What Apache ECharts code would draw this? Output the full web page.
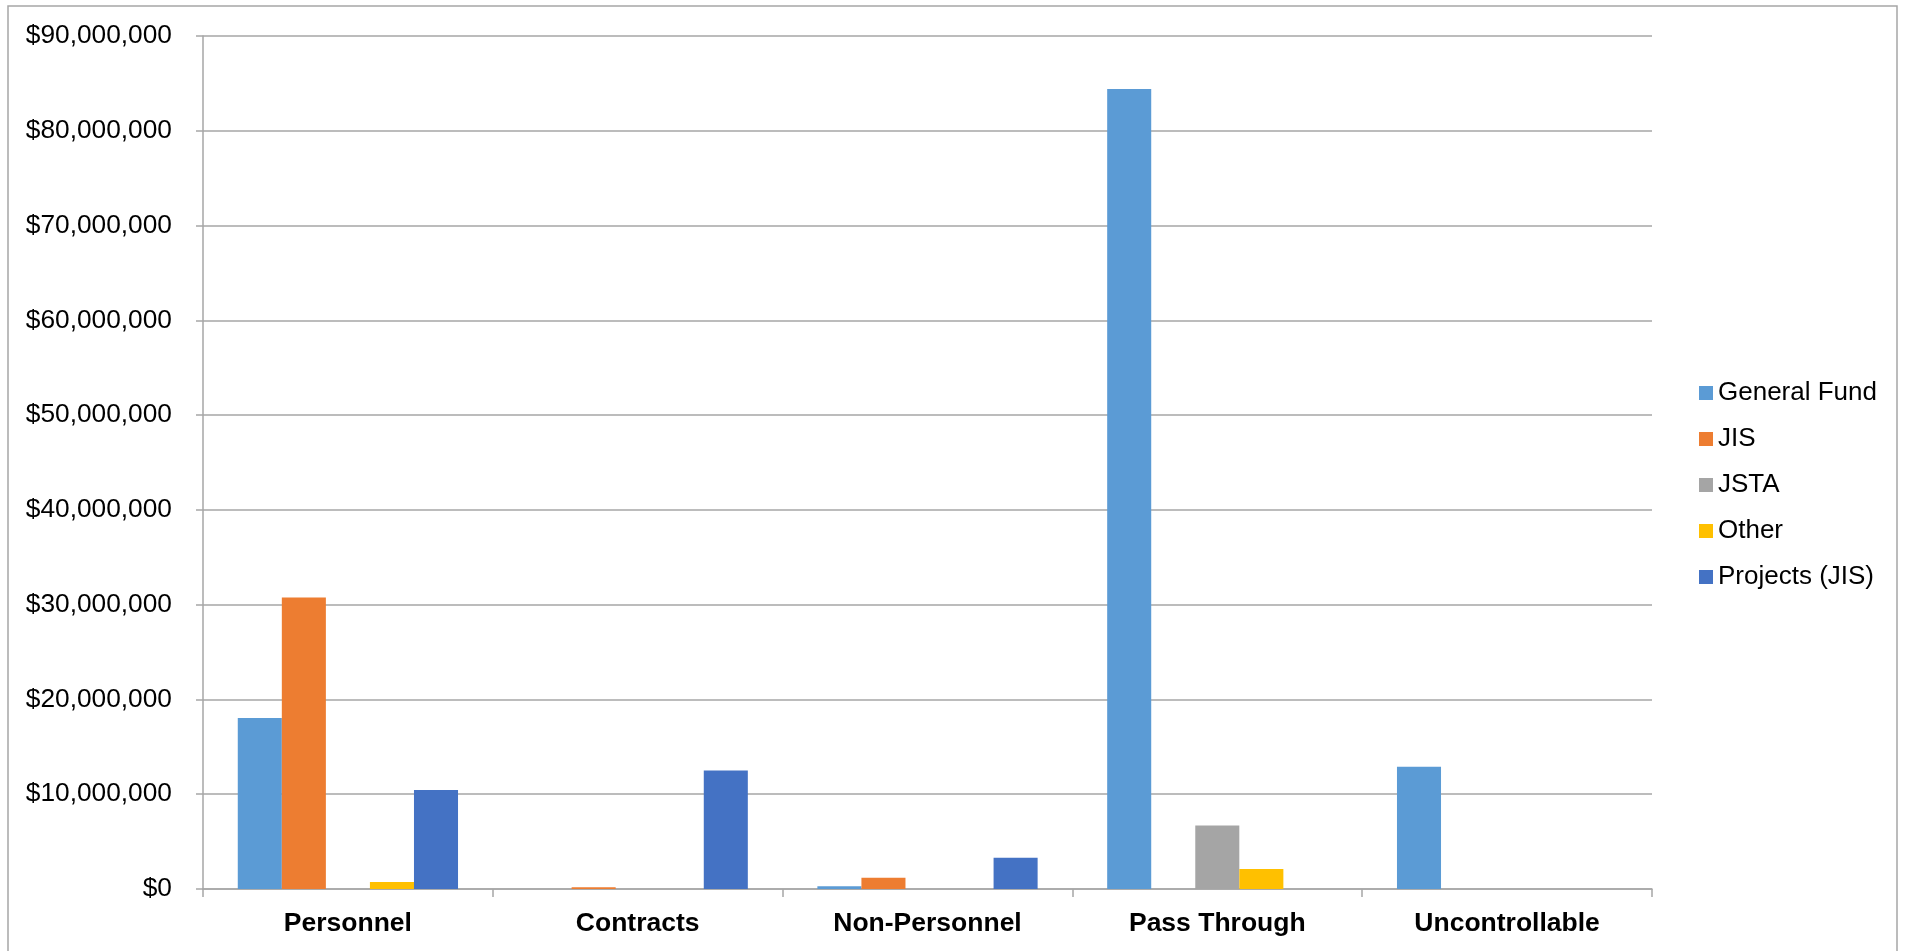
<!DOCTYPE html>
<html>
<head>
<meta charset="utf-8">
<script src="https://cdn.jsdelivr.net/npm/echarts@6/dist/echarts.min.js"></script>
<style>
  html, body { margin: 0; padding: 0; background: #fff; }
  #main { width: 1909px; height: 951px; }
</style>
</head>
<body>
<div id="main"></div>
<script>
// categories and series values (dollars)
let categories = ['Personnel', 'Contracts', 'Non-Personnel', 'Pass Through', 'Uncontrollable'];
let generalFund = [18050000, 0, 280000, 84400000, 12900000];
let jis = [30750000, 180000, 1200000, 0, 0];
let jsta = [0, 0, 0, 6700000, 0];
let other = [750000, 0, 0, 2100000, 0];
let projectsJis = [10450000, 12500000, 3300000, 0, 0];

let seriesNames = ['General Fund', 'JIS', 'JSTA', 'Other', 'Projects (JIS)'];
let seriesData = [generalFund, jis, jsta, other, projectsJis];
let colors = ['#5B9BD5', '#ED7D31', '#A5A5A5', '#FFC000', '#4472C4'];

let font = 'Liberation Sans, Arial, sans-serif';

function money(v) {
  return '$' + String(Math.round(v)).replace(/\B(?=(\d{3})+(?!\d))/g, ',');
}

let myChart = echarts.init(document.getElementById('main'));

let option = {
  animation: false,
  color: colors,
  graphic: [{
    type: 'rect',
    shape: { x: 8, y: 6, width: 1889, height: 970 },
    style: { fill: 'none', stroke: '#A6A6A6', lineWidth: 1.5 },
    silent: true
  }],
  grid: { left: 203, right: 257, top: 36, bottom: 62 },
  legend: {
    orient: 'vertical',
    left: 1694,
    top: 375,
    itemWidth: 14,
    itemHeight: 14,
    itemGap: 20,
    icon: 'rect',
    textStyle: { fontFamily: font, fontSize: 26, color: '#000' },
    data: seriesNames
  },
  xAxis: {
    type: 'category',
    data: categories,
    axisLine: { lineStyle: { color: '#A6A6A6', width: 1.5 } },
    axisTick: { show: true, length: 8, lineStyle: { color: '#A6A6A6', width: 1.5 } },
    axisLabel: { fontFamily: font, fontSize: 26.5, fontWeight: 'bold', color: '#000', margin: 21 }
  },
  yAxis: {
    type: 'value',
    min: 0,
    max: 90000000,
    interval: 10000000,
    axisLine: { show: true, lineStyle: { color: '#A6A6A6', width: 1.5 } },
    axisTick: { show: true, length: 7, lineStyle: { color: '#A6A6A6', width: 1.5 } },
    splitLine: { lineStyle: { color: '#A6A6A6', width: 1.5 } },
    axisLabel: { fontFamily: font, fontSize: 26.3, color: '#000', margin: 31, formatter: money }
  },
  series: seriesNames.map(function (name, i) {
    return {
      name: name,
      type: 'bar',
      data: seriesData[i],
      barGap: '0%',
      barCategoryGap: '24%',
      itemStyle: { color: colors[i] }
    };
  })
};

myChart.setOption(option);
</script>
</body>
</html>
